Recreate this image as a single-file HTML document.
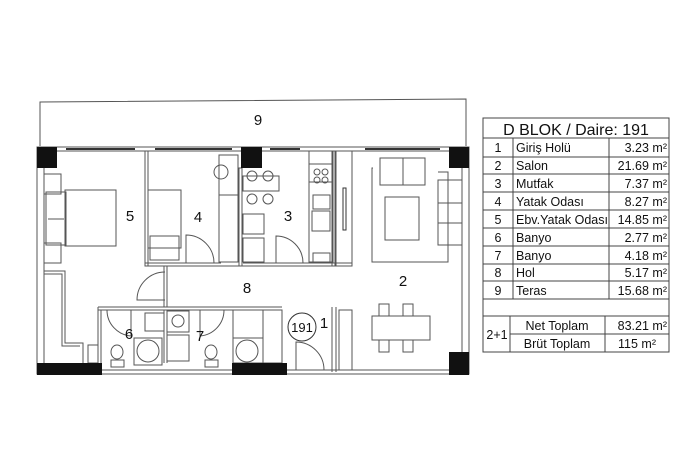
<!DOCTYPE html>
<html><head><meta charset="utf-8"><style>
html,body{margin:0;padding:0;background:#fff;width:700px;height:466px;overflow:hidden}
svg{display:block}
text{font-family:"Liberation Sans",Arial,sans-serif;fill:#111}
</style></head><body>
<svg width="700" height="466" viewBox="0 0 700 466" xmlns="http://www.w3.org/2000/svg">
<g fill="none" stroke="#555" stroke-width="1">
<path d="M40 146 V102 L466 99 V146"/>
<rect x="37" y="147" width="432" height="227"/>
<line x1="44" y1="168" x2="44" y2="363"/>
<line x1="57" y1="151" x2="449" y2="151"/>
<line x1="462" y1="168" x2="462" y2="352"/>
<line x1="102" y1="370" x2="232" y2="370"/>
<line x1="287" y1="370" x2="449" y2="370"/>
<g stroke="#333" stroke-width="2">
<line x1="66" y1="149" x2="135" y2="149"/><line x1="155" y1="149" x2="232" y2="149"/>
<line x1="270" y1="149" x2="300" y2="149"/><line x1="365" y1="149" x2="440" y2="149"/>
</g>
<rect x="145" y="151" width="3" height="115"/>
<rect x="239" y="168" width="3" height="98"/>
<rect x="332" y="151" width="3" height="115"/>
<path d="M145 263 H221 M243 263 H352 M145 266 H352"/>
<path d="M98 307 H282 M98 310 H282 M98 307 V363 M101 310 V363"/>
<path d="M164 310 V363 M167 310 V363"/>
<path d="M164 266 V307 M167 266 V307"/>
<path d="M332 307 V372 M336 307 V372"/>
<path d="M44 271 H65 V343 H83 V363 M44 274 H62 V346 H80"/>
<rect x="88" y="345" width="10" height="18"/>
<rect x="44" y="174" width="17" height="20"/>
<rect x="44" y="243" width="17" height="20"/>
<rect x="46" y="192" width="20" height="53"/>
<rect x="65" y="190" width="51" height="56"/>
<line x1="48" y1="219" x2="64" y2="219"/>
<rect x="148" y="190" width="33" height="58"/>
<rect x="150" y="236" width="29" height="24"/>
<rect x="219" y="155" width="19" height="40"/>
<circle cx="221" cy="172" r="7"/>
<rect x="219" y="195" width="19" height="67"/>
<path d="M186 263 V235 A28 28 0 0 1 214 263"/>
<path d="M276 263 V236 A27 27 0 0 1 303 263"/>
<path d="M165 300 H137 A28 28 0 0 1 165 272"/>
<path d="M131 310 V336 A26 26 0 0 1 107 310"/>
<path d="M200 310 V336 A26 26 0 0 0 224 310"/>
<path d="M296 370 V342 A28 28 0 0 1 324 370"/>
<rect x="243" y="176" width="36" height="15"/>
<circle cx="252" cy="176" r="5"/><circle cx="268" cy="176" r="5"/>
<circle cx="252" cy="199" r="5"/><circle cx="268" cy="199" r="5"/>
<rect x="243" y="214" width="21" height="20"/>
<rect x="243" y="238" width="21" height="24"/>
<rect x="309" y="151" width="24" height="111"/>
<line x1="309" y1="164" x2="333" y2="164"/><line x1="309" y1="182" x2="333" y2="182"/>
<circle cx="317" cy="172" r="3"/><circle cx="325" cy="172" r="3"/><circle cx="317" cy="180" r="3"/><circle cx="325" cy="180" r="3"/>
<rect x="313" y="195" width="17" height="14"/>
<rect x="312" y="211" width="18" height="20"/>
<rect x="313" y="253" width="17" height="9"/>
<rect x="336" y="151" width="16" height="115"/>
<rect x="343" y="188" width="3" height="42" stroke="#333"/>
<path d="M373 168 H372 V262 H448 V172 H438"/>
<rect x="380" y="158" width="45" height="27"/>
<line x1="403" y1="158" x2="403" y2="185"/>
<rect x="438" y="180" width="24" height="65"/>
<line x1="438" y1="203" x2="462" y2="203"/><line x1="438" y1="223" x2="462" y2="223"/>
<rect x="385" y="197" width="34" height="43"/>
<rect x="372" y="316" width="58" height="24"/>
<rect x="379" y="304" width="10" height="12"/><rect x="403" y="304" width="10" height="12"/>
<rect x="379" y="340" width="10" height="12"/><rect x="403" y="340" width="10" height="12"/>
<rect x="339" y="310" width="13" height="60"/>
<rect x="145" y="313" width="19" height="18"/>
<rect x="134" y="338" width="28" height="27"/><circle cx="148" cy="351" r="11"/>
<ellipse cx="117" cy="352" rx="6" ry="7"/><rect x="111" y="360" width="13" height="7"/>
<rect x="167" y="311" width="22" height="21"/><circle cx="178" cy="321" r="6"/>
<rect x="167" y="335" width="22" height="26"/>
<ellipse cx="211" cy="352" rx="6" ry="7"/><rect x="205" y="360" width="13" height="7"/>
<rect x="233" y="310" width="30" height="28"/>
<rect x="233" y="338" width="30" height="25"/><circle cx="247" cy="351" r="11"/>
<rect x="263" y="310" width="19" height="53"/>
</g>
<g fill="#111">
<rect x="37" y="147" width="20" height="21"/>
<rect x="241" y="147" width="21" height="21"/>
<rect x="449" y="147" width="20" height="21"/>
<rect x="37" y="363" width="65" height="12"/>
<rect x="232" y="363" width="55" height="12"/>
<rect x="449" y="352" width="20" height="23"/>
</g>
<circle cx="302" cy="327" r="14" fill="none" stroke="#333"/>
<text x="302" y="332" font-size="13" text-anchor="middle">191</text>
<g font-size="15" text-anchor="middle">
<text x="258" y="125">9</text><text x="130" y="221">5</text><text x="198" y="222">4</text>
<text x="288" y="221">3</text><text x="403" y="286">2</text><text x="247" y="293">8</text>
<text x="324" y="328">1</text><text x="129" y="339">6</text><text x="200" y="341">7</text>
</g>
<g fill="none" stroke="#444" stroke-width="1">
<rect x="483" y="118" width="186" height="234"/>
<path d="M483 138H669M483 157H669M483 174H669M483 192H669M483 210H669M483 228H669M483 246H669M483 264H669M483 281H669M483 299H669M483 316H669M510 334H669"/>
<path d="M513 138V299M609 138V299M510 316V352M605 316V352"/>
</g>
<text x="576" y="135" font-size="16" text-anchor="middle">D BLOK / Daire: 191</text>
<g font-size="12.5">
<g text-anchor="middle">
<text x="498" y="152">1</text><text x="498" y="170">2</text><text x="498" y="188">3</text><text x="498" y="206">4</text><text x="498" y="224">5</text><text x="498" y="242">6</text><text x="498" y="260">7</text><text x="498" y="277">8</text><text x="498" y="295">9</text>
<text x="497" y="339">2+1</text><text x="557" y="330">Net Toplam</text><text x="557" y="348">Brüt Toplam</text>
</g>
<text x="516" y="152">Giriş Holü</text><text x="516" y="170">Salon</text><text x="516" y="188">Mutfak</text><text x="516" y="206">Yatak Odası</text><text x="516" y="224" textLength="92" lengthAdjust="spacingAndGlyphs">Ebv.Yatak Odası</text><text x="516" y="242">Banyo</text><text x="516" y="260">Banyo</text><text x="516" y="277">Hol</text><text x="516" y="295">Teras</text>
<g text-anchor="end">
<text x="667" y="152">3.23 m²</text><text x="667" y="170">21.69 m²</text><text x="667" y="188">7.37 m²</text><text x="667" y="206">8.27 m²</text><text x="667" y="224">14.85 m²</text><text x="667" y="242">2.77 m²</text><text x="667" y="260">4.18 m²</text><text x="667" y="277">5.17 m²</text><text x="667" y="295">15.68 m²</text>
<text x="667" y="330">83.21 m²</text><text x="656" y="348">115 m²</text>
</g>
</g>
</svg>
</body></html>
